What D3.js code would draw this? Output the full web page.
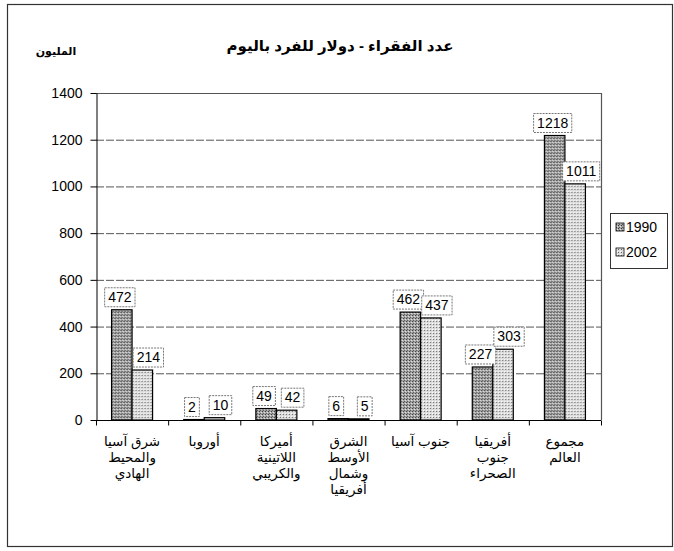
<!DOCTYPE html>
<html>
<head>
<meta charset="utf-8">
<script src="https://cdn.jsdelivr.net/npm/d3@7"></script>
<style>
  body { margin: 0; background: #fff; }
  svg text { font-family: "Liberation Sans", Arial, "DejaVu Sans", sans-serif; }
</style>
</head>
<body>
<svg id="chart" width="674" height="551"></svg>
<script>
// data
var categories = [
  ["شرق آسيا", "والمحيط", "الهادي"],
  ["أوروبا"],
  ["أميركا", "اللاتينية", "والكريبي"],
  ["الشرق", "الأوسط", "وشمال", "أفريقيا"],
  ["جنوب آسيا"],
  ["أفريقيا", "جنوب", "الصحراء"],
  ["مجموع", "العالم"]
];
var series = ["1990", "2002"];
var values1990 = [472, 2, 49, 6, 462, 227, 1218];
var values2002 = [214, 10, 42, 5, 437, 303, 1011];
var yTicks = [0, 200, 400, 600, 800, 1000, 1200, 1400];
var title = "عدد الفقراء - دولار للفرد باليوم";
var unitLabel = "المليون";

var svg = d3.select("#chart");
var margin = { top: 93, left: 96, right: 601, bottom: 420 };

// outer frame
svg.append("rect")
  .attr("x", 7.5).attr("y", 4.5)
  .attr("width", 665).attr("height", 542)
  .attr("fill", "none").attr("stroke", "#333").attr("stroke-width", 1.2);

// patterns
var defs = svg.append("defs");
var p1 = defs.append("pattern").attr("id", "pat1990")
  .attr("patternUnits", "userSpaceOnUse").attr("width", 3).attr("height", 3);
p1.append("rect").attr("width", 3).attr("height", 3).attr("fill", "#a8a8a8");
p1.append("rect").attr("x", 0).attr("y", 0).attr("width", 1).attr("height", 1).attr("fill", "#333");
p1.append("rect").attr("x", 2).attr("y", 1).attr("width", 1).attr("height", 1).attr("fill", "#e8e8e8");
p1.append("rect").attr("x", 1).attr("y", 2).attr("width", 1).attr("height", 1).attr("fill", "#555");

var p2 = defs.append("pattern").attr("id", "pat2002")
  .attr("patternUnits", "userSpaceOnUse").attr("width", 3).attr("height", 3);
p2.append("rect").attr("width", 3).attr("height", 3).attr("fill", "#dcdcdc");
p2.append("rect").attr("x", 0).attr("y", 0).attr("width", 1).attr("height", 1).attr("fill", "#666");
p2.append("rect").attr("x", 2).attr("y", 2).attr("width", 1).attr("height", 1).attr("fill", "#fff");

var y = d3.scaleLinear().domain([0, 1400]).range([margin.bottom, margin.top]);
var x = d3.scaleBand().domain(d3.range(categories.length))
  .range([margin.left, margin.right]).paddingInner(0).paddingOuter(0);
var inner = d3.scaleBand().domain(series).range([0, 41]);
var groupOffset = (x.bandwidth() - 41) / 2;

// gridlines
svg.append("g").selectAll("line").data(yTicks.filter(d => d > 0 && d < 1400)).join("line")
  .attr("x1", margin.left).attr("x2", margin.right)
  .attr("y1", d => y(d) + 0.5).attr("y2", d => y(d) + 0.5)
  .attr("stroke", "#555").attr("stroke-width", 1).attr("stroke-dasharray", "8,2");

// plot border top & right
svg.append("path")
  .attr("d", "M" + margin.left + "," + (margin.top + 0.5) + "H" + (margin.right + 0.5) + "V" + margin.bottom)
  .attr("fill", "none").attr("stroke", "#555").attr("stroke-width", 1.2);

// y axis
var yAxis = svg.append("g")
  .attr("transform", "translate(" + (margin.left + 0.5) + ",0)")
  .call(d3.axisLeft(y).tickValues(yTicks).tickFormat(d3.format("d"))
    .tickSize(6).tickSizeOuter(0).tickPadding(8));
yAxis.selectAll("text").attr("font-size", 14).attr("fill", "#000");
yAxis.selectAll("line, path").attr("stroke", "#000");

// x axis
var xAxis = svg.append("g")
  .attr("transform", "translate(0," + (margin.bottom + 0.5) + ")");
xAxis.append("line").attr("x1", margin.left).attr("x2", margin.right)
  .attr("stroke", "#000");
xAxis.selectAll("line.tk").data(d3.range(categories.length + 1)).join("line")
  .attr("class", "tk")
  .attr("x1", d => (d < categories.length ? x(d) : margin.right) + 0.5)
  .attr("x2", d => (d < categories.length ? x(d) : margin.right) + 0.5)
  .attr("y1", 0).attr("y2", 5).attr("stroke", "#000");

// bars
var rows = categories.map((c, i) => ({ i: i, v: [values1990[i], values2002[i]] }));
var groups = svg.append("g").selectAll("g").data(rows).join("g")
  .attr("transform", d => "translate(" + (x(d.i) + groupOffset) + ",0)");
groups.selectAll("rect").data(d => series.map((s, k) => ({ s: s, v: d.v[k] }))).join("rect")
  .attr("x", d => inner(d.s))
  .attr("y", d => y(d.v))
  .attr("width", inner.bandwidth())
  .attr("height", d => y(0) - y(d.v))
  .attr("fill", d => "url(#pat" + d.s + ")")
  .attr("stroke", "#000").attr("stroke-width", 1.2);

// data labels in dashed boxes
var labelShift = { "1990": -2, "2002": 6 };
groups.selectAll("g.lab").data(d => series.map((s, k) => ({ s: s, v: d.v[k] }))).join("g")
  .attr("class", "lab")
  .each(function(d) {
    var g = d3.select(this);
    var cx = inner(d.s) + inner.bandwidth() / 2 + labelShift[d.s];
    var t = g.append("text")
      .attr("x", cx).attr("y", y(d.v) - 8)
      .attr("text-anchor", "middle").attr("font-size", 14).attr("fill", "#000")
      .text(d.v);
    var w = t.node().getComputedTextLength() + 7;
    g.insert("rect", "text")
      .attr("x", cx - w / 2).attr("y", y(d.v) - 22)
      .attr("width", w).attr("height", 19)
      .attr("fill", "#fff").attr("stroke", "#777").attr("stroke-width", 1)
      .attr("stroke-dasharray", "2,1");
  });

// category labels
svg.append("g").selectAll("text").data(categories).join("text")
  .attr("x", (d, i) => x(i) + x.bandwidth() / 2)
  .attr("y", 446)
  .attr("text-anchor", "middle").attr("font-size", 13.5).attr("fill", "#000")
  .attr("direction", "rtl")
  .each(function(d) {
    var t = d3.select(this);
    d.forEach((line, k) => {
      t.append("tspan").attr("x", t.attr("x")).attr("dy", k === 0 ? 0 : 16).text(line);
    });
  });

// title & unit
svg.append("text").attr("x", 340).attr("y", 51)
  .attr("text-anchor", "middle").attr("font-size", 15).attr("font-weight", "bold")
  .attr("direction", "rtl").text(title);
svg.append("text").attr("x", 56).attr("y", 55)
  .attr("text-anchor", "middle").attr("font-size", 11).attr("font-weight", "bold")
  .attr("direction", "rtl").text(unitLabel);

// legend
var legend = svg.append("g");
legend.append("rect").attr("x", 610.5).attr("y", 213.5).attr("width", 57).attr("height", 55)
  .attr("fill", "#fff").attr("stroke", "#333");
series.forEach((s, k) => {
  legend.append("rect").attr("x", 616).attr("y", 223 + k * 25).attr("width", 8).attr("height", 8)
    .attr("fill", "url(#pat" + s + ")").attr("stroke", "#000").attr("stroke-width", 0.8);
  legend.append("text").attr("x", 626).attr("y", 232 + k * 25)
    .attr("font-size", 14).text(s);
});
</script>
</body>
</html>
